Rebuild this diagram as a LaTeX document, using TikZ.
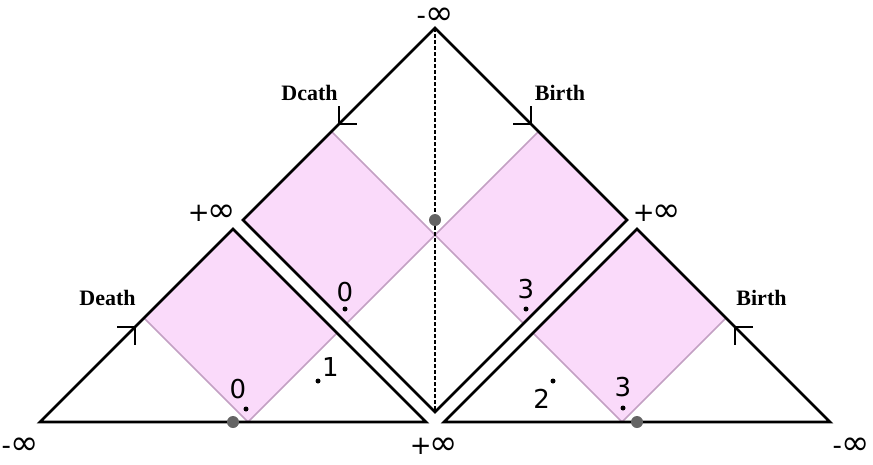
\documentclass[tikz,border=0pt]{standalone}
\usepackage{fontspec}
\setmainfont{Liberation Serif}
\newfontfamily\signfont{DejaVu Sans}
\usetikzlibrary{positioning}

\definecolor{bandpink}{RGB}{250,218,250}
\definecolor{bandline}{RGB}{195,160,195}
\definecolor{hubgray}{RGB}{100,100,100}

\begin{document}
\begin{tikzpicture}[
  x=1pt, y=-1pt,
  node distance = 4pt,
  rim/.style    = {line width=2.8pt, line join=miter},
  band/.style   = {fill=bandpink, draw=bandline, line width=1.6pt},
  tick/.style   = {line width=2.4pt},
  seam/.style   = {dash pattern=on 3.5pt off 2.5pt, line width=1.3pt},
  hub/.style    = {circle, fill=hubgray, inner sep=0pt, minimum size=12pt},
  dotpt/.style  = {circle, fill=black, inner sep=0pt, minimum size=5pt},
  tag/.style    = {font=\fontsize{22}{25}\selectfont\bfseries, inner sep=0pt, anchor=base},
  num/.style    = {font=\signfont\fontsize{26}{30}\selectfont, inner sep=0pt},
  inf/.style    = {font=\signfont\fontsize{34}{36}\selectfont, inner sep=0pt},
  sgn/.style    = {font=\signfont\fontsize{26}{30}\selectfont}
]
  \useasboundingbox (0,0) rectangle (873,464);

  % top diamond and the two triangles
  \coordinate (top) at (435,28);
  \coordinate (lft) at (243,220);
  \coordinate (bot) at (435,412);
  \coordinate (rgt) at (627,220);
  \coordinate (lA)  at (233,229);
  \coordinate (lW)  at (40,422);
  \coordinate (lE)  at (426,422);
  \coordinate (rA)  at (637,229);
  \coordinate (rW)  at (444,422);
  \coordinate (rE)  at (830,422);

  % corners of the pink bands
  \coordinate (mid) at (435,235);
  \coordinate (pL)  at (331.5,131.5);
  \coordinate (qL)  at (346.5,323.5);
  \coordinate (pR)  at (538.5,131.5);
  \coordinate (qR)  at (523.5,323.5);
  \coordinate (aL)  at (144,318);
  \coordinate (cL)  at (337,333);
  \coordinate (dL)  at (248,422);
  \coordinate (aR)  at (726,318);
  \coordinate (cR)  at (533,333);
  \coordinate (dR)  at (622,422);

  \draw[band] (pL) -- (lft) -- (qL) -- (mid) -- cycle;
  \draw[band] (pR) -- (rgt) -- (qR) -- (mid) -- cycle;
  \draw[band] (aL) -- (lA) -- (cL) -- (dL) -- cycle;
  \draw[band] (aR) -- (rA) -- (cR) -- (dR) -- cycle;

  \draw[seam] (top) -- (bot);

  \draw[rim] (top) -- (lft) -- (bot) -- (rgt) -- cycle;
  \draw[rim] (lW) -- (lA) -- (lE) -- cycle;
  \draw[rim] (rW) -- (rA) -- (rE) -- cycle;

  % ticks on the edges
  \coordinate (tD1) at (339,124);
  \coordinate (tB1) at (531,124);
  \coordinate (tD2) at (135,327);
  \coordinate (tB2) at (735,327);
  \draw[tick] (tD1) ++(0,-18) -- (tD1) -- ++(18,0);
  \draw[tick] (tB1) ++(0,-18) -- (tB1) -- ++(-18,0);
  \draw[tick] (tD2) ++(-18,0) -- (tD2) -- ++(0,18);
  \draw[tick] (tB2) ++(18,0) -- (tB2) -- ++(0,18);

  \node[tag] (death1) at (309.5,100) {Dcath};
  \node[tag] (birth1) at (560,100) {Birth};
  \node[tag] (death2) at (107.5,305) {Death};
  \node[tag] (birth2) at (761.5,305) {Birth};

  % gray points
  \node[hub] (hc) at (435,220) {};
  \node[hub] (hl) at (233,422) {};
  \node[hub] (hr) at (637,422) {};

  % numbered points
  \node[dotpt] (p0a) at (345,309) {};
  \node[dotpt] (p1)  at (318,381) {};
  \node[dotpt] (p0b) at (246,409) {};
  \node[dotpt] (p3a) at (526,309) {};
  \node[dotpt] (p2)  at (553,381) {};
  \node[dotpt] (p3b) at (623,408) {};

  \node[num, above=of p0a] (n0a) {0};
  \node[num, above right=2pt and 2pt of p1] (n1) {1};
  \node[num, above=7pt of p0b, xshift=-8pt] (n0b) {0};
  \node[num, above=7pt of p3a] (n3a) {3};
  \node[num, below left=6pt and 1pt of p2] (n2) {2};
  \node[num, above=8pt of p3b] (n3b) {3};

  % infinities
  \node[inf] (itop) at (435,16)  {{\fontsize{26}{30}\selectfont-}\kern-1pt∞};
  \node[inf] (ilw)  at (20,446)  {{\fontsize{26}{30}\selectfont-}\kern-1pt∞};
  \node[inf] (imid) at (434,446) {{\fontsize{26}{30}\selectfont+}\kern-2pt∞};
  \node[inf] (ire)  at (851,446) {{\fontsize{26}{30}\selectfont-}\kern-1pt∞};
  \node[inf] (ilft) at (212,213) {{\fontsize{26}{30}\selectfont+}\kern-2pt∞};
  \node[inf] (irgt) at (657,213) {{\fontsize{26}{30}\selectfont+}\kern-2pt∞};
\end{tikzpicture}
\end{document}
